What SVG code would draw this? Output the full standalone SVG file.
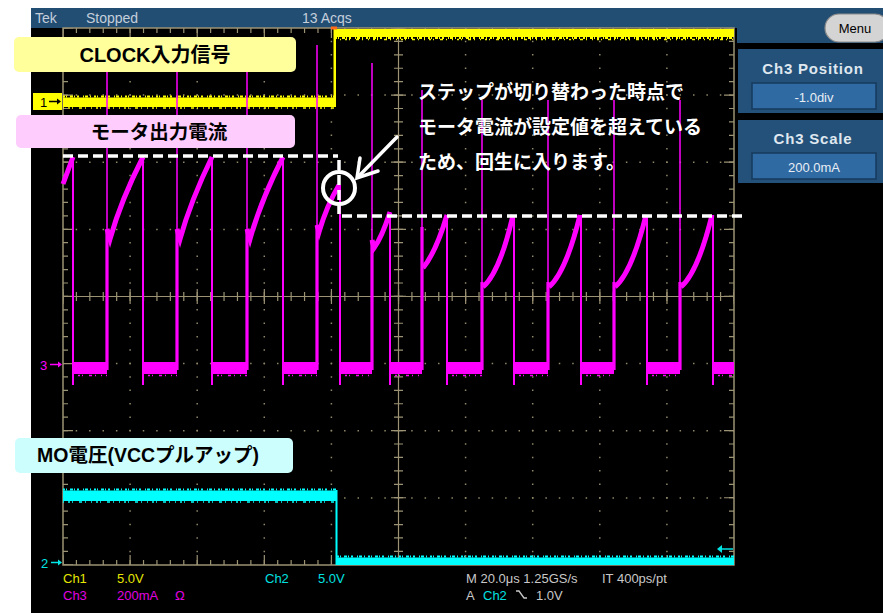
<svg xmlns="http://www.w3.org/2000/svg" width="883" height="613" viewBox="0 0 883 613">
<style>
.grid{stroke:#9c9374;fill:none}
.dots{stroke:#8f8767;stroke-width:1.5;stroke-dasharray:1.5 11.92;stroke-dashoffset:0.75}
.tk{stroke:#9c9374;stroke-dasharray:1.2 12.22;stroke-dashoffset:0.6;fill:none}
.tkM{stroke:#9c9374;stroke-dasharray:1.2 65.91;stroke-dashoffset:0.6;fill:none}
.mag{stroke:#ff00ff;fill:none}
.nz{fill:none;stroke-width:2;stroke-dasharray:2 1 1 3 3 1 1 2 2 4 1 1 3 2 1 3}
.nz2{fill:none;stroke-width:1.5;stroke-dasharray:1 4 2 2 1 6 3 3 1 5}
.lbl{font-family:"Liberation Sans","Noto Sans CJK JP",sans-serif;font-weight:bold;fill:#000}
.ann{font-family:"Liberation Sans","Noto Sans CJK JP",sans-serif;font-weight:bold;fill:#fff;font-size:19px}
.st{font-family:"Liberation Sans",Arial,sans-serif;font-size:13px}
.hdr{font-family:"Liberation Sans",Arial,sans-serif;font-size:14px;fill:#c3cfdb}
.pn{font-family:"Liberation Sans",Arial,sans-serif;font-weight:bold;font-size:15px;fill:#dfe7ef;letter-spacing:0.8px}
.pv{font-family:"Liberation Sans",Arial,sans-serif;font-size:13px;fill:#e8eef4}
.dash{stroke:#fff;stroke-width:3.5;stroke-dasharray:10 5;fill:none}
</style>
<rect x="0" y="0" width="883" height="613" fill="#fff"/>
<rect x="31" y="8" width="852" height="605" fill="#000"/>
<g id="header">
<rect x="31" y="8" width="852" height="20" fill="#234e74"/>
<rect x="737" y="8" width="146" height="35" fill="#234e74"/>
<text class="hdr" x="35" y="23">Tek</text>
<text class="hdr" x="86" y="23">Stopped</text>
<text class="hdr" x="302" y="23">13 Acqs</text>
</g>
<g id="menu">
<rect x="825" y="14" width="64" height="28" rx="14" fill="#d4d4d4" stroke="#8a8a8a" stroke-width="1.2"/>
<text x="855" y="33" text-anchor="middle" font-family="Liberation Sans,Arial,sans-serif" font-size="13" fill="#000">Menu</text>
</g>
<g id="ch3-position">
<rect x="738" y="49" width="145" height="64" fill="#24517a"/>
<text class="pn" x="813" y="74" text-anchor="middle">Ch3 Position</text>
<rect x="752" y="83" width="124" height="26" fill="#2f6aa3" stroke="#163a5c" stroke-width="1.5"/>
<text class="pv" x="814" y="102" text-anchor="middle">-1.0div</text>
</g>
<g id="ch3-scale">
<rect x="738" y="120" width="145" height="63" fill="#24517a"/>
<text class="pn" x="813" y="144" text-anchor="middle">Ch3 Scale</text>
<rect x="752" y="153" width="124" height="26" fill="#2f6aa3" stroke="#163a5c" stroke-width="1.5"/>
<text class="pv" x="814" y="172" text-anchor="middle">200.0mA</text>
</g>
<g id="graticule">
<path class="dots" d="M130.1,28V565M197.2,28V565M264.3,28V565M331.4,28V565M465.6,28V565M532.7,28V565M599.8,28V565M666.9,28V565"/>
<path class="dots" d="M63,95.1H734M63,162.2H734M63,229.4H734M63,363.6H734M63,430.7H734M63,497.9H734"/>
<path class="grid" stroke-width="1.2" d="M398.5,28V565M63,296.5H734"/>
<path class="tk" stroke-width="9" d="M398.5,28V565M63,296.5H734"/>
<path class="tkM" stroke-width="15" d="M398.5,28V565M63,296.5H734"/>
<rect class="grid" stroke-width="1.5" x="63" y="28" width="671" height="537"/>
<path class="tk" stroke-width="5" d="M63,30.5H734M63,562.5H734M65.5,28V565M731.5,28V565"/>
<path class="tkM" stroke-width="10" d="M63,33H734M63,560H734M68,28V565M729,28V565"/>
</g>
<g id="ch1-trace">
<g fill="#ffff00">
<rect x="63" y="97.5" width="272" height="9.5"/>
<rect x="333.5" y="29" width="2.5" height="78"/>
<rect x="335" y="29" width="399" height="8"/>
</g>
<path class="nz" stroke="#ffff00" d="M63,96.5H335M335,38H734"/>
<path class="nz2" stroke="#ffff00" d="M63,108H335M340,39.5H734"/>
</g>
<rect id="trigger-mark" x="331" y="26.5" width="6" height="3" fill="#ff6a1a"/>
<g id="ch3-trace">
<g fill="#ff00ff">
<rect x="73" y="362" width="34" height="12"/>
<rect x="143" y="362" width="34" height="12"/>
<rect x="212" y="362" width="35" height="12"/>
<rect x="283" y="362" width="34" height="12"/>
<rect x="340" y="362" width="32" height="12"/>
<rect x="390" y="362" width="32" height="12"/>
<rect x="447" y="362" width="35" height="12"/>
<rect x="514" y="362" width="34" height="12"/>
<rect x="581" y="362" width="33" height="12"/>
<rect x="647" y="362" width="33" height="12"/>
<rect x="713" y="362" width="21" height="12"/>
</g>
<path class="nz2" stroke="#ff00ff" d="M73,375.5H107M143,375.5H177M212,375.5H247M283,375.5H317M340,375.5H372M390,375.5H422M447,375.5H482M514,375.5H548M581,375.5H614M647,375.5H680M713,375.5H734"/>
<path class="mag" stroke-width="1.5" d="M107,229V70M177,229V70M247,229V70M317,225V45M372,240V63M422,227V90M482,282V100M548,282V100M614,282V100M680,282V100"/>
<path class="mag" stroke-width="2" d="M73,157V385M143,157V385M212,157V385M283,157V385M340,185V385M390,212V385M447,215V385M514,215V385M581,215V385M647,215V385M713,215V385"/>
<path class="mag" stroke-width="3.2" d="M107,370V229M177,370V229M247,370V229M317,370V225M372,370V240M422,370V227M482,370V282M548,370V282M614,370V282M680,370V282"/>
<path class="mag" stroke-width="5" d="M63,184L73,157M107,229L110,239Q121,200 143,157M177,229L180,239Q191,200 212,157M247,229L250,239Q261,200 283,157M317,225L319,232Q327,205 339,185M372,240L374,248Q382,237 390,212M423,268Q436,252 447,215M483,287Q500,272 513,215M549,287Q566,272 580,215M615,287Q632,272 646,215M681,287Q698,272 712,215"/>
</g>
<g id="ch2-trace">
<g fill="#00ffff">
<rect x="63" y="490.5" width="274" height="10.5"/>
<rect x="335.5" y="490" width="2" height="75"/>
<rect x="337" y="557.5" width="397" height="7.5"/>
</g>
<path class="nz" stroke="#00ffff" d="M63,489.5H337M337,556.5H734"/>
<path class="nz2" stroke="#00ffff" d="M63,502H337"/>
</g>
<g id="markers">
<rect x="33" y="93" width="29" height="17" fill="#ffff00"/>
<text x="40" y="107" font-family="Liberation Sans,Arial,sans-serif" font-size="13" fill="#000">1</text>
<path d="M49,101.5H58" stroke="#000" stroke-width="1.5"/>
<path d="M61,101.5l-4,-3v6z" fill="#000"/>
<text x="40" y="370" font-family="Liberation Sans,Arial,sans-serif" font-size="13" fill="#ff00ff">3</text>
<path d="M50,364.5H58" stroke="#ff00ff" stroke-width="1.5"/>
<path d="M62,364.5l-4,-3v6z" fill="#ff00ff"/>
<text x="41" y="568" font-family="Liberation Sans,Arial,sans-serif" font-size="13" fill="#00e5e5">2</text>
<path d="M51,562.5H58" stroke="#00e5e5" stroke-width="1.5"/>
<path d="M62,562.5l-4,-3v6z" fill="#00e5e5"/>
<path d="M721,549H733" stroke="#00e5e5" stroke-width="1.5"/>
<path d="M717,549l5,-4v8z" fill="#00e5e5"/>
</g>
<g id="threshold-lines">
<path class="dash" d="M63,156H338"/>
<path class="dash" d="M339,160V214"/>
<path class="dash" d="M342,216H742"/>
<circle cx="339" cy="188" r="16" fill="none" stroke="#fff" stroke-width="4"/>
</g>
<g id="connectors">
<path d="M397,137L358,177" stroke="#fff" stroke-width="3.5" stroke-linecap="round" fill="none"/>
<path d="M360,158L357,178L378,171" stroke="#fff" stroke-width="3.5" stroke-linecap="round" fill="none"/>
</g>
<g id="label-clock">
<rect x="14" y="37" width="282" height="35" rx="5" fill="#ffff9c"/>
<text class="lbl" x="155" y="62" font-size="20" text-anchor="middle">CLOCK入力信号</text>
</g>
<g id="label-current">
<rect x="16" y="115" width="279" height="33" rx="5" fill="#ffccfe"/>
<text class="lbl" x="159" y="139" font-size="19.5" text-anchor="middle">モータ出力電流</text>
</g>
<g id="label-mo">
<rect x="15" y="438" width="278" height="35" rx="5" fill="#ccfefe"/>
<text class="lbl" x="37" y="462" font-size="19.5">MO電圧(VCCプルアップ)</text>
</g>
<g id="annotation">
<text class="ann" x="418" y="99">ステップが切り替わった時点で</text>
<text class="ann" x="418" y="134">モータ電流が設定値を超えている</text>
<text class="ann" x="418" y="169">ため、回生に入ります。</text>
</g>
<g id="status">
<text class="st" x="63" y="583" fill="#e6e600">Ch1</text>
<text class="st" x="117" y="583" fill="#e6e600">5.0V</text>
<text class="st" x="265" y="583" fill="#00e0e0">Ch2</text>
<text class="st" x="318" y="583" fill="#00e0e0">5.0V</text>
<text class="st" x="63" y="600" fill="#e000e0">Ch3</text>
<text class="st" x="117" y="600" fill="#e000e0">200mA</text>
<text class="st" x="175" y="600" fill="#e000e0">Ω</text>
<text class="st" x="466" y="583" fill="#c8c8c8">M 20.0μs 1.25GS/s</text>
<text class="st" x="602" y="583" fill="#c8c8c8">IT 400ps/pt</text>
<text class="st" x="466" y="600" fill="#c8c8c8">A</text>
<text class="st" x="483" y="600" fill="#00e0e0">Ch2</text>
<path d="M516,591H519L524,598H527" stroke="#c8c8c8" stroke-width="1.3" fill="none"/>
<text class="st" x="536" y="600" fill="#c8c8c8">1.0V</text>
</g>
</svg>
